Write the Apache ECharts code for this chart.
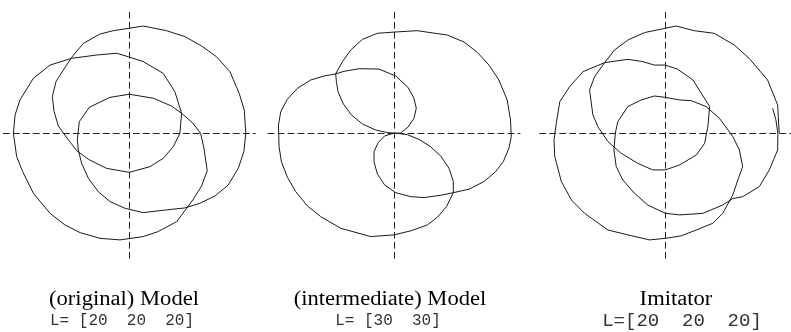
<!DOCTYPE html>
<html>
<head>
<meta charset="utf-8">
<script src="https://cdn.jsdelivr.net/npm/echarts@6/dist/echarts.min.js"></script>
<style>
  html, body { margin: 0; padding: 0; background: #fff; }
  #chart { width: 791px; height: 332px; }
</style>
</head>
<body>
<div id="chart"></div>
<script>
// End-effector traces of the three arms (x, y in arm length units)
const modelX = [0, 7.2, 19.2, 28.7, 37.3, 45.0, 51.9, 56.7, 59.3, 60.1,
  59.1, 56.2, 51.0, 44.2, 36.4, 28.7, 19.2, 7.2, -2.2, -10.0,
  -16.0, -21.1, -24.6, -26.3, -26.8, -25.8, -20.6, -10.0, 0, 12.4,
  21.8, 27.0, 32.6, 36.8, 38.5, 40.2, 37.3, 33.0, 29.6, 24.4,
  14.9, 7.2, -4.8, -15.1, -25.4, -33.2, -40.9, -49.5, -55.0, -58.1,
  -59.8, -58.9, -56.4, -49.5, -40.9, -29.7, -16.8, -6.5, -0.5, 7.2,
  17.5, 23.5, 27.0, 26.1, 22.7, 17.5, 10.7, 0, -11.7, -21.1,
  -27.1, -31.4, -36.6, -38.8, -39.7, -37.8, -34.0, -29.7, -23.7, -15.1,
  -8.2, 0];
const modelY = [60.5, 61.8, 59.1, 55.7, 50.3, 44.1, 35.5, 23.0, 13.4, 0,
  -10.6, -20.2, -29.8, -36.1, -40.3, -43.0, -44.1, -45.7, -43.2, -39.3,
  -33.6, -25.9, -17.3, -9.6, -3.8, 6.7, 15.0, 20.7, 22.5, 20.2,
  15.7, 11.5, 6.1, 0, -8.6, -21.5, -30.3, -38.0, -43.2, -50.9,
  -56.6, -59.5, -61.4, -60.5, -57.2, -52.8, -46.1, -34.5, -22.1, -13.4,
  0, 10.6, 19.2, 31.7, 39.3, 43.2, 45.1, 46.1, 44.1, 41.3,
  34.5, 24.0, 11.5, 0, -7.7, -14.4, -19.2, -22.5, -20.2, -15.0,
  -10.0, -3.8, 4.2, 12.5, 21.1, 29.8, 36.5, 43.8, 51.8, 57.2,
  59.1, 60.5];

const interX = [-30.1, -26.6, -22.3, -16.3, -8.6, 0, 12.0, 27.5, 36.1, 43.0,
  49.0, 54.1, 58.4, 60.1, 60.5, 59.3, 56.4, 52.4, 46.4, 38.7,
  30.6, 24.1, 15.5, 8.6, 0.9, -4.8, -8.6, -10.3, -10.3, -8.2,
  -4.8, -0.9, 3.4, 7.2, 10.3, 11.5, 10.3, 7.2, 0.9, -7.7,
  -18.0, -25.8, -30.1, -36.1, -43.0, -49.8, -55.0, -58.4, -59.6, -59.3,
  -58.1, -55.0, -50.7, -44.7, -37.8, -27.5, -12.0, 0, 8.6, 17.2,
  22.3, 27.1, 30.6, 30.6, 28.4, 24.1, 18.9, 12.9, 6.9, 1.7,
  -3.4, -9.5, -16.3, -22.0, -26.1, -28.9, -29.7, -30.1];
const interY = [34.2, 41.3, 48.0, 54.1, 57.6, 58.3, 59.1, 56.6, 52.6, 46.6,
  39.3, 30.7, 19.2, 7.7, -1.9, -8.6, -16.3, -22.1, -27.8, -32.2,
  -34.2, -35.7, -37.0, -36.5, -34.2, -29.8, -23.4, -16.3, -10.6, -5.4,
  -1.5, -0.2, 0.2, 3.5, 8.6, 14.4, 20.2, 26.5, 33.0, 37.0,
  37.2, 35.7, 34.2, 33.0, 30.7, 25.9, 19.6, 12.5, 4.8, -7.7,
  -16.3, -25.3, -33.6, -41.8, -48.0, -54.7, -59.5, -58.5, -56.2, -52.8,
  -48.4, -42.2, -34.2, -27.8, -20.2, -13.1, -7.7, -3.5, -0.8, 0,
  0.4, 1.9, 5.4, 10.6, 16.9, 24.0, 29.8, 34.2];

const imitX = [55.5, 57.2, 58.2, 58.1, 53.8, 48.6, 40.0, 34.9, 29.7, 19.4,
  7.4, 0, -9.1, -16.0, -22.0, -25.4, -26.6, -25.9, -24.6, -19.4,
  -12.5, -5.7, 0, 7.4, 13.4, 21.1, 28.0, 34.9, 38.3, 40.0,
  37.5, 34.9, 29.7, 24.6, 16.0, 8.1, 0, -8.2, -19.4, -29.7,
  -41.8, -48.6, -53.8, -57.2, -57.6, -56.4, -54.6, -49.5, -42.6, -31.4,
  -19.4, -11.7, -5.7, 0, 6.4, 14.3, 22.9, 22.0, 20.3, 16.0,
  7.4, 0, -6.5, -14.3, -22.9, -29.7, -34.9, -37.5, -39.2, -36.6,
  -31.4, -26.3, -19.4, -10.8, 0, 5.5, 14.9, 25.3, 35.6, 43.3,
  52.9, 58.1, 58.9];
const imitY = [14.4, 7.7, 0, -9.6, -21.1, -30.7, -36.5, -37.6, -41.3, -46.1,
  -47.0, -46.1, -41.3, -34.5, -26.9, -19.2, -9.6, 0, 6.7, 15.4,
  19.2, 21.5, 20.7, 19.2, 18.8, 15.4, 8.6, -1.9, -9.6, -19.2,
  -26.9, -35.5, -46.1, -51.8, -55.7, -59.1, -60.5, -61.4, -58.5, -55.7,
  -46.1, -38.4, -27.8, -13.4, -3.8, 5.8, 18.2, 26.9, 35.5, 40.7,
  42.6, 41.3, 39.3, 39.3, 36.9, 30.7, 15.4, 3.8, -5.8, -12.5,
  -18.2, -21.1, -21.1, -17.3, -11.5, -4.8, 3.8, 10.6, 25.0, 32.6,
  40.7, 48.0, 53.7, 58.0, 60.5, 61.8, 59.1, 57.6, 50.9, 43.2,
  30.7, 16.3, 0];

const panelTitles = ['(original) Model', '(intermediate) Model', 'Imitator'];
const lengthLabels = ['L= [20  20  20]', 'L= [30  30]', 'L=[20  20  20]'];

// axis limits shared by every panel
const xLimits = [-65, 65];
const yLimits = [-72, 72];

// layout
const gridLefts = [3.3, 268, 539.7];
const gridTop = 8.3, gridW = 252, gridH = 250;
const titleCenters = [124, 390, 676];
const labelCenters = [122, 388, 682];
const labelSizes = [16, 16, 19];

const traces = [[modelX, modelY], [interX, interY], [imitX, imitY]];

const dashed = { color: '#222', width: 1, type: [6, 4] };

const chart = echarts.init(document.getElementById('chart'), null, { renderer: 'canvas' });

const option = {
  animation: false,
  backgroundColor: '#fff',
  grid: gridLefts.map(l => ({ left: l, top: gridTop, width: gridW, height: gridH })),
  xAxis: gridLefts.map((_, i) => ({
    type: 'value', gridIndex: i, min: xLimits[0], max: xLimits[1],
    axisLine: { show: true, onZero: true, lineStyle: dashed },
    axisTick: { show: false }, axisLabel: { show: false }, splitLine: { show: false }
  })),
  yAxis: gridLefts.map((_, i) => ({
    type: 'value', gridIndex: i, min: yLimits[0], max: yLimits[1],
    axisLine: { show: true, onZero: true, lineStyle: dashed },
    axisTick: { show: false }, axisLabel: { show: false }, splitLine: { show: false }
  })),
  series: traces.map(([xs, ys], i) => ({
    type: 'line',
    xAxisIndex: i, yAxisIndex: i,
    data: xs.map((x, k) => [x, ys[k]]),
    showSymbol: false, symbol: 'none',
    smooth: false,
    lineStyle: { color: '#1a1a1a', width: 1 },
    silent: true,
    z: 3
  })),
  graphic: [
    ...panelTitles.map((t, i) => ({
      type: 'text', x: titleCenters[i], y: 300, scaleX: 1.13,
      style: {
        text: t, font: '20px "Liberation Serif", "Times New Roman", serif', fill: '#000',
        align: 'center', verticalAlign: 'middle', textAlign: 'center', textVerticalAlign: 'middle'
      }
    })),
    ...lengthLabels.map((t, i) => ({
      type: 'text', x: labelCenters[i], y: 320.5,
      style: {
        text: t, font: labelSizes[i] + 'px "Liberation Mono", "Courier New", monospace', fill: '#333',
        align: 'center', verticalAlign: 'middle', textAlign: 'center', textVerticalAlign: 'middle'
      }
    }))
  ]
};

chart.setOption(option);
</script>
</body>
</html>
